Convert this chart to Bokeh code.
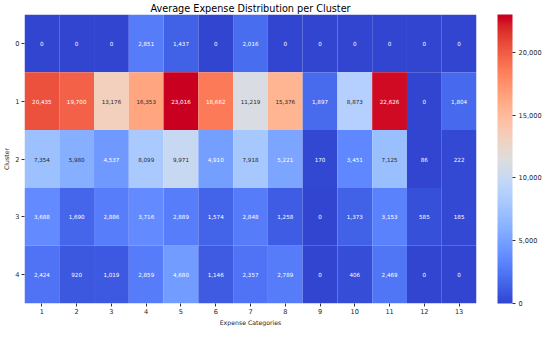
import numpy as np
from bokeh.plotting import figure
from bokeh.models import (ColumnDataSource, LinearColorMapper, ColorBar, FixedTicker,
                          NumeralTickFormatter, Range1d, LinearAxis)
from bokeh.core.properties import value
from bokeh.embed import file_html
from bokeh.resources import INLINE

categories = [1, 2, 3, 4, 5, 6, 7, 8, 9, 10, 11, 12, 13]
clusters = [0, 1, 2, 3, 4]
row_0 = [0, 0, 0, 2851, 1437, 0, 2016, 0, 0, 0, 0, 0, 0]
row_1 = [20435, 19700, 13176, 16353, 23016, 18662, 11219, 15376, 1897, 8873, 22626, 0, 1804]
row_2 = [7354, 5980, 4537, 8099, 9971, 4910, 7918, 5221, 170, 3451, 7125, 86, 222]
row_3 = [3688, 1690, 2886, 3716, 2889, 1574, 2848, 1258, 0, 1373, 3153, 585, 185]
row_4 = [2424, 920, 1019, 2859, 4680, 1146, 2357, 2789, 0, 406, 2469, 0, 0]
rows = [row_0, row_1, row_2, row_3, row_4]
colorbar_ticks = [0, 5000, 10000, 15000, 20000]

# coolwarm palette (Moreland control points)
cw = [(59,76,192),(68,90,204),(77,104,215),(87,117,225),(98,130,234),(108,142,241),
      (119,154,247),(130,165,251),(141,176,254),(152,185,255),(163,194,255),(174,201,253),
      (184,208,249),(194,213,244),(204,217,238),(213,219,230),(221,221,221),(229,216,209),
      (236,211,197),(241,204,185),(245,196,173),(247,187,160),(247,177,148),(247,166,135),
      (244,154,123),(241,141,111),(236,127,99),(229,112,88),(222,96,77),(213,80,66),
      (203,62,56),(192,40,47),(180,4,38)]
cw = np.array(cw, dtype=float)
pos = np.linspace(0, 1, len(cw))
t = np.linspace(0, 1, 256)
pal_rgb = np.stack([np.interp(t, pos, cw[:, k]) for k in range(3)], axis=1)
# the reference renders slightly more saturated than the nominal map
gray = pal_rgb.mean(axis=1, keepdims=True)
pal_rgb = np.clip(gray + 1.2 * (pal_rgb - gray), 0, 255)
palette = ["#%02x%02x%02x" % tuple(int(round(c)) for c in rgb) for rgb in pal_rgb]

vmax = max(max(r) for r in rows)
vmin = 0

def lum(rgb):
    c = np.array(rgb) / 255.0
    c = np.where(c <= 0.03928, c / 12.92, ((c + 0.055) / 1.055) ** 2.4)
    return 0.2126 * c[0] + 0.7152 * c[1] + 0.0722 * c[2]

xs, ys, vals, labels, tcols = [], [], [], [], []
for ci, r in zip(clusters, rows):
    for cat, v in zip(categories, r):
        xs.append(cat)
        ys.append(ci)
        vals.append(v)
        labels.append(f"{v:,}")
        idx = int(min(255, max(0, round((v - vmin) / (vmax - vmin) * 255))))
        tcols.append("#262626" if lum(pal_rgb[idx]) > 0.408 else "#ffffff")

src = ColumnDataSource(dict(x=xs, y=ys, v=vals, label=labels, tc=tcols))
mapper = LinearColorMapper(palette=palette, low=vmin, high=vmax)

p = figure(frame_width=452, frame_height=289, output_backend="svg", toolbar_location=None,
           x_range=Range1d(0.5, 13.5), y_range=Range1d(4.5, -0.5),
           title="Average Expense Distribution per Cluster",
           min_border_left=0, min_border_right=0, min_border_top=0, min_border_bottom=0)
p.rect(x="x", y="y", width=1, height=1, source=src,
       fill_color={"field": "v", "transform": mapper}, line_color=None)
p.text(x="x", y="y", text="label", source=src, text_color="tc",
       text_align="center", text_baseline="middle", text_font_size="5.6px",
       text_font=value("DejaVu Sans"))

p.title.align = "center"
p.title.text_font = "DejaVu Sans"
p.title.text_font_size = "9.7px"
p.title.text_font_style = "normal"
p.title.text_color = "#000000"
p.title.offset = 0
p.title.standoff = 1

for ax in (p.xaxis, p.yaxis):
    ax.axis_line_color = None
    ax.major_tick_line_color = "#333333"
    ax.major_tick_out = 3
    ax.major_tick_in = 0
    ax.minor_tick_line_color = None
    ax.major_label_text_font = "DejaVu Sans"
    ax.major_label_text_font_size = "6.6px"
    ax.major_label_text_color = "#262626"
    ax.axis_label_text_font = "DejaVu Sans"
    ax.axis_label_text_font_size = "6.2px"
    ax.axis_label_text_font_style = "normal"
    ax.axis_label_text_color = "#262626"
    ax.major_label_standoff = 2
    ax.axis_label_standoff = 2
p.xaxis.ticker = FixedTicker(ticks=categories)
p.yaxis.ticker = FixedTicker(ticks=clusters)
p.xaxis.axis_label = "Expense Categories"
p.yaxis.axis_label = "Cluster"
p.yaxis.major_label_orientation = "horizontal"
p.xgrid.grid_line_color = None
p.ygrid.grid_line_color = None
p.outline_line_color = None

# invisible spacer between heatmap and colour bar
spacer = LinearAxis(ticker=FixedTicker(ticks=[]), axis_line_color=None,
                    major_tick_line_color=None, minor_tick_line_color=None,
                    major_label_text_font_size="0px", axis_label=" ",
                    axis_label_text_font_size="14px", axis_label_standoff=2)
p.add_layout(spacer, "right")

cb = ColorBar(color_mapper=mapper, ticker=FixedTicker(ticks=colorbar_ticks),
              formatter=NumeralTickFormatter(format="0,0"), width=15,
              padding=0, major_tick_out=3, major_tick_in=0,
              major_tick_line_color="#333333", major_label_text_font="DejaVu Sans",
              major_label_text_font_size="6.6px", major_label_text_color="#262626",
              label_standoff=3, bar_line_color=None, border_line_color=None,
              background_fill_alpha=0)
p.add_layout(cb, "right")

open("out.html", "w").write(file_html(p, INLINE))
